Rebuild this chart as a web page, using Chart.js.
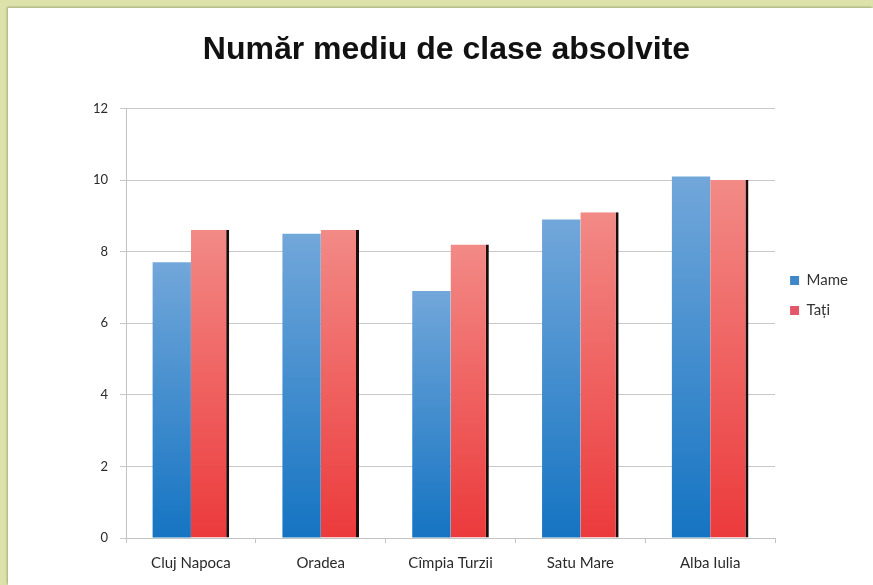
<!DOCTYPE html>
<html>
<head>
<meta charset="utf-8">
<script src="https://cdn.jsdelivr.net/npm/chart.js@4"></script>
<style>
  html, body { margin: 0; padding: 0; }
  body { width: 873px; height: 585px; background: #dce2aa; overflow: hidden; }
  #wrap {
    position: absolute; left: 8px; top: 8px; width: 865px; height: 577px;
    background: #fff; box-shadow: -1px -1px 2px rgba(0,0,0,0.25);
  }
</style>
</head>
<body>
<div id="wrap"><canvas id="chart" width="865" height="577"></canvas></div>
<script>
// Number of completed school years, by city
const cities = ["Cluj Napoca", "Oradea", "Cîmpia Turzii", "Satu Mare", "Alba Iulia"];
const mame = [7.7, 8.5, 6.9, 8.9, 10.1];
const tati = [8.6, 8.6, 8.2, 9.1, 10.0];
const yTicks = [0, 2, 4, 6, 8, 10, 12];
const legendColors = ["#3f87c9", "#e4566a"];

// per-bar vertical gradient, light at the top, darker at the base
function barGradient(top, bottom) {
  return (c) => {
    const chart = c.chart;
    const ys = chart.scales.y;
    if (!ys || !chart.chartArea || c.raw == null) return bottom;
    const yTop = ys.getPixelForValue(c.raw);
    const yBase = ys.getPixelForValue(0);
    if (!isFinite(yTop) || !isFinite(yBase) || yTop === yBase) return bottom;
    const g = chart.ctx.createLinearGradient(0, yTop, 0, yBase);
    g.addColorStop(0, top);
    g.addColorStop(1, bottom);
    return g;
  };
}

const ctx = document.getElementById("chart").getContext("2d");
new Chart(ctx, {
  type: "bar",
  data: {
    labels: cities,
    datasets: [
      {
        label: "Mame",
        data: mame,
        backgroundColor: barGradient("#72a7da", "#1574c2"),
        borderWidth: 0,
      },
      {
        label: "Tați",
        data: tati,
        backgroundColor: barGradient("#f28a86", "#ec3a3c"),
        borderColor: "#1c0c0c",
        borderWidth: { top: 0, left: 0, bottom: 0, right: 3 },
        borderSkipped: false,
      },
    ],
  },
  options: {
    responsive: false,
    animation: false,
    categoryPercentage: 0.59,
    barPercentage: 1.0,
    layout: { padding: { left: 27, right: 15, top: 0, bottom: 2 } },
    plugins: {
      title: {
        display: true,
        text: "Număr mediu de clase absolvite",
        color: "#111",
        font: { family: "Liberation Sans", size: 32, weight: "bold" },
        padding: { top: 23, bottom: 39 },
      },
      legend: {
        position: "right",
        labels: {
          color: "#333",
          boxWidth: 9,
          boxHeight: 9,
          padding: 15,
          font: { family: "Lato", size: 15 },
          generateLabels: (chart) =>
            Chart.defaults.plugins.legend.labels
              .generateLabels(chart)
              .map((l, i) => ({ ...l, fillStyle: legendColors[i], lineWidth: 0 })),
        },
      },
      tooltip: { enabled: false },
    },
    scales: {
      x: {
        grid: {
          display: true,
          drawOnChartArea: false,
          drawTicks: true,
          tickLength: 5,
          color: "#c4c4c4",
        },
        border: { color: "#c4c4c4" },
        ticks: { color: "#2a2a2a", font: { family: "Lato", size: 15 }, padding: 11 },
      },
      y: {
        min: 0,
        max: 12,
        afterBuildTicks: (axis) => {
          axis.ticks = yTicks.map((v) => ({ value: v }));
        },
        afterFit: (axis) => {
          axis.width = 91;
        },
        grid: { color: "#c8c8c8", tickLength: 6 },
        border: { color: "#c4c4c4" },
        ticks: { color: "#2a2a2a", font: { family: "Lato", size: 13 }, padding: 12 },
      },
    },
  },
});
</script>
</body>
</html>
